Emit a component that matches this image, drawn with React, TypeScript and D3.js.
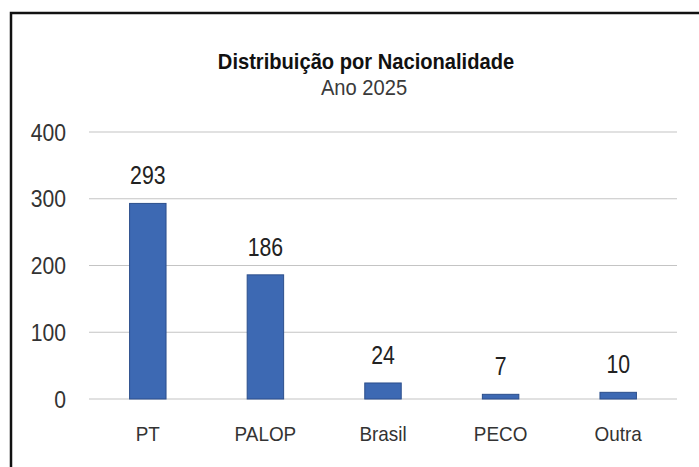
import * as d3 from "d3";

const categories = ["PT", "PALOP", "Brasil", "PECO", "Outra"];
const values = [293, 186, 24, 7, 10];
const yTicks = [0, 100, 200, 300, 400];
const titleText = "Distribuição  por Nacionalidade";
const subtitleText = "Ano 2025";

const W = 699;
const H = 467;
const sans = "'Liberation Sans', Arial, sans-serif";

// text squeezed horizontally, the scan uses narrow fonts
const SText = ({ x, y, sx, anchor = "middle", children, ...rest }: any) => (
  <text
    transform={`translate(${x},${y}) scale(${sx},1)`}
    textAnchor={anchor}
    fontFamily={sans}
    {...rest}
  >
    {children}
  </text>
);

export default function App() {
  // scales
  const x = d3
    .scaleBand()
    .domain(categories)
    .range([89, 677])
    .paddingInner(0.69)
    .paddingOuter(0.345);
  const y = d3.scaleLinear().domain([0, 400]).range([399, 132]);
  const cx = (c: string) => (x(c) as number) + x.bandwidth() / 2;

  return (
    <svg
      width={W}
      height={H}
      style={{ position: "absolute", left: 0, top: 0, background: "#fff" }}
    >
      {/* frame of the scanned chart */}
      <rect x={11} y={13} width={720} height={480} fill="#fff" stroke="#111" strokeWidth={2.5} />

      {/* title */}
      <SText x={366} y={69} sx={0.915} fontWeight="bold" fontSize={22} fill="#111">
        {titleText}
      </SText>
      <SText x={364} y={95} sx={0.915} fontSize={22} fill="#3a3a3a">
        {subtitleText}
      </SText>

      {/* gridlines and y tick labels */}
      {yTicks.map((t) => (
        <g key={t}>
          <line x1={89} x2={677} y1={y(t)} y2={y(t)} stroke="#c4c4c4" strokeWidth={1.2} />
          <SText x={66} y={y(t) + 8.5} sx={0.92} anchor="end" fontSize={23} fill="#333">
            {t}
          </SText>
        </g>
      ))}

      {/* bars */}
      {categories.map((c, i) => (
        <rect
          key={c}
          x={x(c)}
          y={y(values[i])}
          width={x.bandwidth()}
          height={y(0) - y(values[i])}
          fill="#3d69b3"
          stroke="#2c4f8c"
          strokeWidth={1}
        />
      ))}

      {/* data labels */}
      {categories.map((c, i) => (
        <SText key={c} x={cx(c)} y={y(values[i]) - 19} sx={0.85} fontSize={25} fill="#222">
          {values[i]}
        </SText>
      ))}

      {/* category labels */}
      {categories.map((c) => (
        <SText key={c} x={cx(c)} y={441} sx={0.9} fontSize={21} fill="#333">
          {c}
        </SText>
      ))}
    </svg>
  );
}
